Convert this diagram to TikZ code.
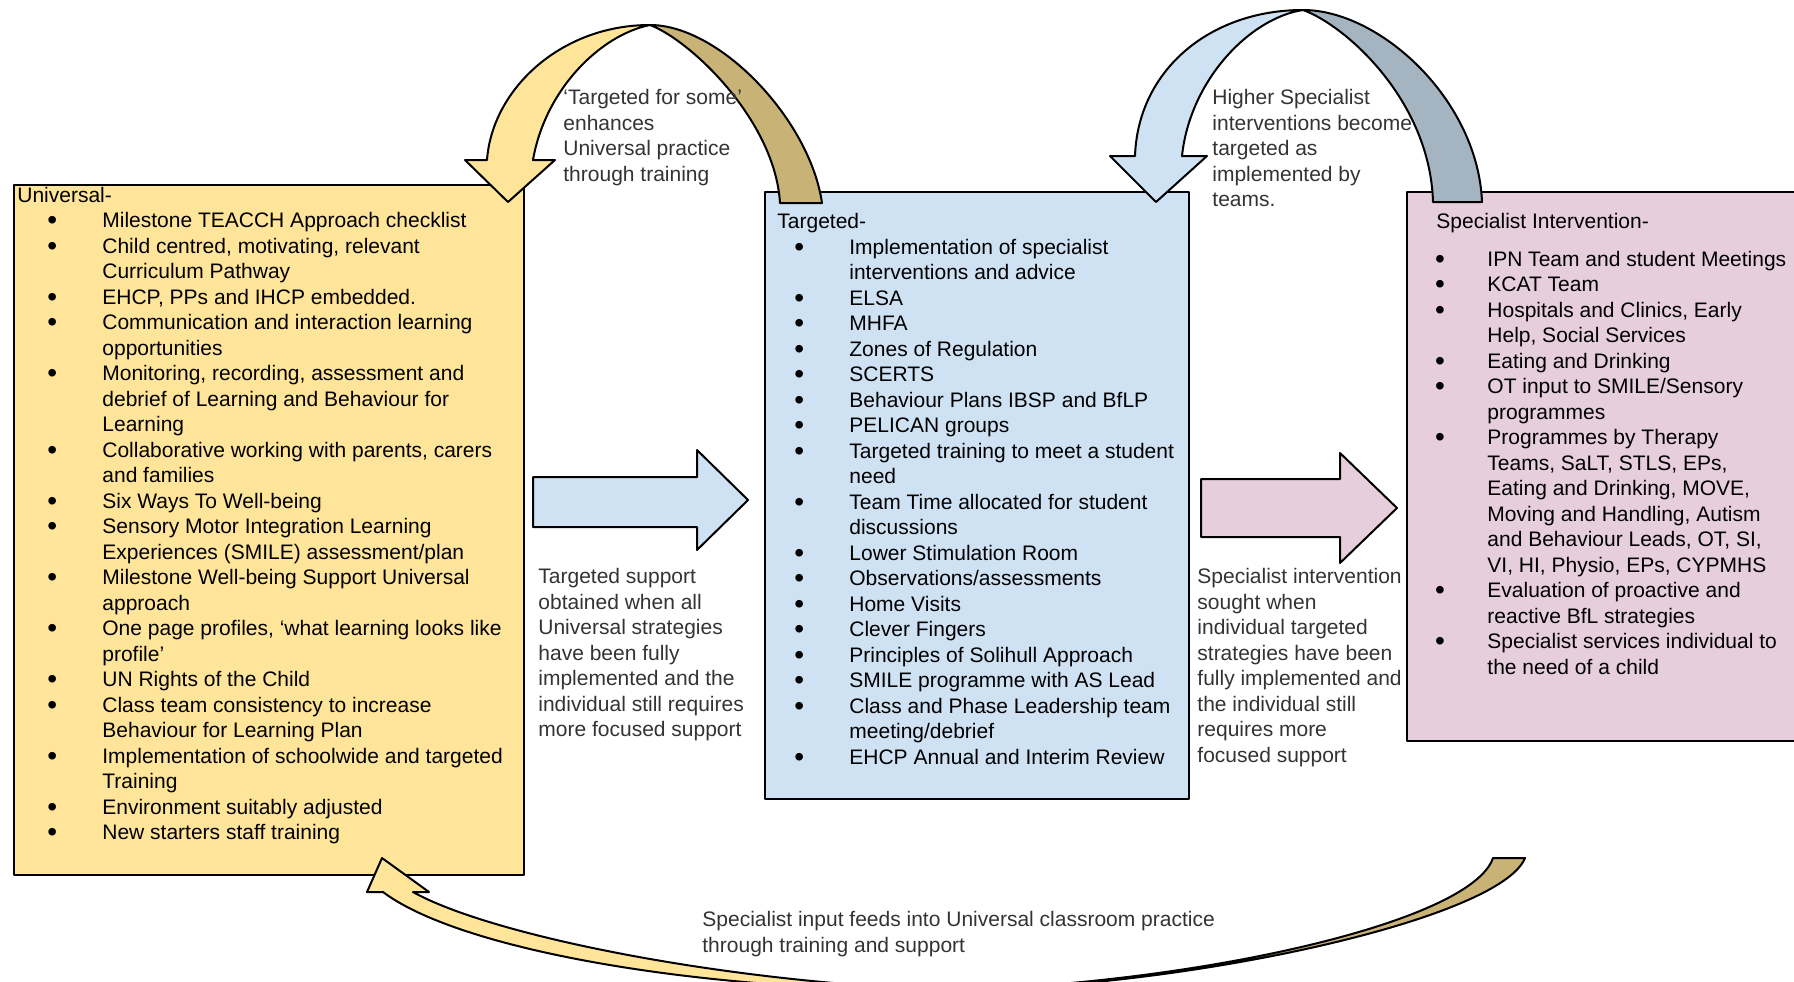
\documentclass[tikz,border=0pt]{standalone}
\usepackage{fontspec}
\setmainfont{Liberation Sans}
\usepackage{tikz}
\usetikzlibrary{calc}
\usepackage{tkz-euclide}

\definecolor{uniyellow}{HTML}{FFE599}
\definecolor{unitan}{HTML}{C9B276}
\definecolor{tarblue}{HTML}{CFE2F3}
\definecolor{targrey}{HTML}{A4B4C1}
\definecolor{specpink}{HTML}{E6CEDC}
\definecolor{labelgrey}{HTML}{333333}

\newlength{\bulx}
\newlength{\txtx}
\newcommand{\bul}{\makebox[\txtx][l]{\hspace{\bulx}\smash{\fontsize{14}{12.75}\selectfont\raisebox{-1.2pt}{\textbullet}}}}
\newcommand{\nxt}{\hspace*{\txtx}}

\begin{document}
\begin{tikzpicture}[x=0.5pt,y=-0.5pt,
	rim/.style={draw=black, line width=1pt, line join=round},
	txt/.style={anchor=base west, inner sep=0pt, align=left, font=\fontsize{10.5}{12.75}\selectfont},
	lbl/.style={txt, text=labelgrey},
	unilist/.style={txt, execute at begin node={\setlength{\bulx}{15pt}\setlength{\txtx}{42.5pt}}},
	tarlist/.style={txt, execute at begin node={\setlength{\bulx}{8.5pt}\setlength{\txtx}{36pt}}},
	speclist/.style={txt, execute at begin node={\setlength{\bulx}{-0.6pt}\setlength{\txtx}{25.5pt}}}]
	\useasboundingbox (0,0) rectangle (1794,981);
	
	\tkzDefPoints{14/185/U1,524/185/U2,524/875/U3,14/875/U4}
	\tkzDefPoints{765/192/T1,1189/192/T2,1189/799/T3,765/799/T4}
	\tkzDefPoints{1407/192/S1,1800/192/S2,1800/741/S3,1407/741/S4}
	\tkzDrawPolygon[rim, fill=uniyellow](U1,U2,U3,U4)
	\tkzDrawPolygon[rim, fill=tarblue](T1,T2,T3,T4)
	\tkzDrawPolygon[rim, fill=specpink](S1,S2,S3,S4)
	
	\tkzDefPoints{533/477/a1,697/477/a2,697/450/a3,748/500/a4,697/550/a5,697/527/a6,533/527/a7}
	\tkzDrawPolygon[rim, fill=tarblue](a1,a2,a3,a4,a5,a6,a7)
	\tkzDefPoints{1201/479/b1,1340/479/b2,1340/453/b3,1397/508/b4,1340/563/b5,1340/537/b6,1201/537/b7}
	\tkzDrawPolygon[rim, fill=specpink](b1,b2,b3,b4,b5,b6,b7)
	
	\tkzDefPoints{650/25/P,1303/10/Q,945/990/R}
	\filldraw[rim, fill=unitan] (P) .. controls (720,25) and (810,120) .. (822,203) -- (780,203)
		.. controls (775,120) and (690,40) .. (P) -- cycle;
	\filldraw[rim, fill=uniyellow] (465,160) -- (508,202) -- (555,160) -- (533,160)
		.. controls (545,90) and (600,35) .. (P) .. controls (560,25) and (492,90) .. (487,160) -- cycle;
	
	\filldraw[rim, fill=targrey] (Q) .. controls (1380,10) and (1478,100) .. (1482,202) -- (1433,202)
		.. controls (1430,100) and (1345,25) .. (Q) -- cycle;
	\filldraw[rim, fill=tarblue] (1110,156) -- (1156,202) -- (1207,156) -- (1182,156)
		.. controls (1190,80) and (1250,18) .. (Q) .. controls (1210,10) and (1138,70) .. (1135,156) -- cycle;
	
	\filldraw[rim, fill=unitan] (R) .. controls (1180,990) and (1500,920) .. (1525,858) -- (1493,858)
		.. controls (1470,925) and (1180,986) .. (R) -- cycle;
	\filldraw[rim, fill=uniyellow] (367,892) -- (382,858) -- (429,892) -- (413,892)
		.. controls (490,935) and (720,982) .. (R) .. controls (700,992) and (460,950) .. (383,892) -- cycle;
	
	\node[unilist] (universal) at (17,839.5) {Universal-\\
		\bul Milestone TEACCH Approach checklist\\
		\bul Child centred, motivating, relevant\\
		\nxt Curriculum Pathway\\
		\bul EHCP, PPs and IHCP embedded.\\
		\bul Communication and interaction learning\\
		\nxt opportunities\\
		\bul Monitoring, recording, assessment and\\
		\nxt debrief of Learning and Behaviour for\\
		\nxt Learning\\
		\bul Collaborative working with parents, carers\\
		\nxt and families\\
		\bul Six Ways To Well-being\\
		\bul Sensory Motor Integration Learning\\
		\nxt Experiences (SMILE) assessment/plan\\
		\bul Milestone Well-being Support Universal\\
		\nxt approach\\
		\bul One page profiles, `what learning looks like\\
		\nxt profile'\\
		\bul UN Rights of the Child\\
		\bul Class team consistency to increase\\
		\nxt Behaviour for Learning Plan\\
		\bul Implementation of schoolwide and targeted\\
		\nxt Training\\
		\bul Environment suitably adjusted\\
		\bul New starters staff training};
	
	\node[tarlist] (targeted) at (777,764) {Targeted-\\
		\bul Implementation of specialist\\
		\nxt interventions and advice\\
		\bul ELSA\\
		\bul MHFA\\
		\bul Zones of Regulation\\
		\bul SCERTS\\
		\bul Behaviour Plans IBSP and BfLP\\
		\bul PELICAN groups\\
		\bul Targeted training to meet a student\\
		\nxt need\\
		\bul Team Time allocated for student\\
		\nxt discussions\\
		\bul Lower Stimulation Room\\
		\bul Observations/assessments\\
		\bul Home Visits\\
		\bul Clever Fingers\\
		\bul Principles of Solihull Approach\\
		\bul SMILE programme with AS Lead\\
		\bul Class and Phase Leadership team\\
		\nxt meeting/debrief\\
		\bul EHCP Annual and Interim Review};
	
	\node[speclist] (specialist) at (1436,674) {Specialist Intervention-\\[6pt]
		\bul IPN Team and student Meetings\\
		\bul KCAT Team\\
		\bul Hospitals and Clinics, Early\\
		\nxt Help, Social Services\\
		\bul Eating and Drinking\\
		\bul OT input to SMILE/Sensory\\
		\nxt programmes\\
		\bul Programmes by Therapy\\
		\nxt Teams, SaLT, STLS, EPs,\\
		\nxt Eating and Drinking, MOVE,\\
		\nxt Moving and Handling, Autism\\
		\nxt and Behaviour Leads, OT, SI,\\
		\nxt VI, HI, Physio, EPs, CYPMHS\\
		\bul Evaluation of proactive and\\
		\nxt reactive BfL strategies\\
		\bul Specialist services individual to\\
		\nxt the need of a child};
	
	\node[lbl] (enhances) at (563,181) {`Targeted for some'\\enhances\\Universal practice\\through training};
	\node[lbl] (higher) at (1212,206.5) {Higher Specialist\\interventions become\\targeted as\\implemented by\\teams.};
	\node[lbl] (tosupport) at (538,736.5) {Targeted support\\obtained when all\\Universal strategies\\have been fully\\implemented and the\\individual still requires\\more focused support};
	\node[lbl] (tointerv) at (1197,762) {Specialist intervention\\sought when\\individual targeted\\strategies have been\\fully implemented and\\the individual still\\requires more\\focused support};
	\node[lbl] (feeds) at (702,952) {Specialist input feeds into Universal classroom practice\\through training and support};
\end{tikzpicture}
\end{document}
